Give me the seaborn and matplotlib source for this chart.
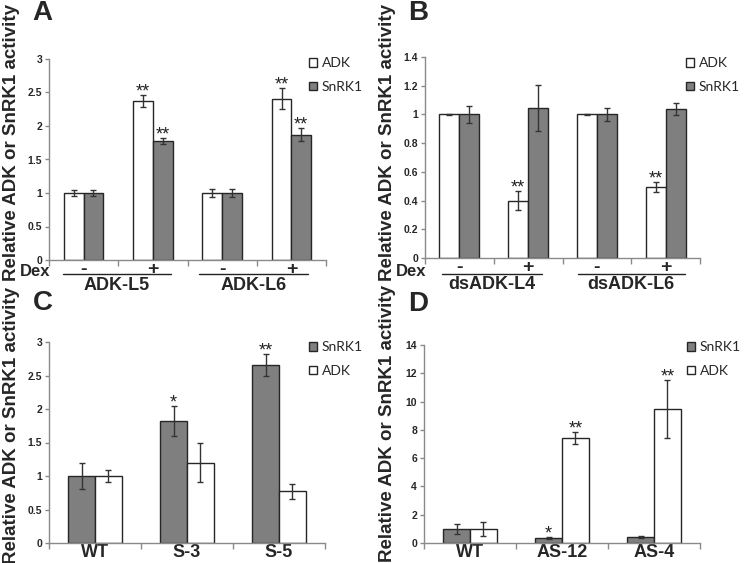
import numpy as np
import pandas as pd
import matplotlib
matplotlib.use("Agg")
import matplotlib.pyplot as plt
import seaborn as sns
from matplotlib.ticker import FuncFormatter, MultipleLocator

sns.set_theme(style="white")
plt.rcParams['font.family'] = ['Liberation Sans', 'DejaVu Sans']

# ---------------- data ----------------
# Panel A
a_cats = ["L5-", "L5+", "L6-", "L6+"]
a_dex = ["-", "+", "-", "+"]
a_groups = ["ADK-L5", "ADK-L6"]
a_adk = [1.0, 2.37, 1.0, 2.41]
a_adk_err = [0.05, 0.09, 0.065, 0.16]
a_adk_stars = ["", "**", "", "**"]
a_snrk = [1.0, 1.77, 1.0, 1.87]
a_snrk_err = [0.05, 0.045, 0.06, 0.095]
a_snrk_stars = ["", "**", "", "**"]

# Panel B
b_cats = ["L4-", "L4+", "L6-", "L6+"]
b_dex = ["-", "+", "-", "+"]
b_groups = ["dsADK-L4", "dsADK-L6"]
b_adk = [1.0, 0.40, 1.0, 0.497]
b_adk_err = [0.005, 0.066, 0.003, 0.035]
b_adk_stars = ["", "**", "", "**"]
b_snrk = [1.0, 1.045, 1.0, 1.037]
b_snrk_err = [0.06, 0.16, 0.048, 0.04]
b_snrk_stars = ["", "", "", ""]

# Panel C
c_cats = ["WT", "S-3", "S-5"]
c_snrk = [1.0, 1.82, 2.66]
c_snrk_err = [0.2, 0.23, 0.16]
c_snrk_stars = ["", "*", "**"]
c_adk = [1.0, 1.2, 0.77]
c_adk_err = [0.09, 0.29, 0.11]
c_adk_stars = ["", "", ""]

# Panel D
d_cats = ["WT", "AS-12", "AS-4"]
d_snrk = [1.0, 0.35, 0.42]
d_snrk_err = [0.35, 0.06, 0.1]
d_snrk_stars = ["", "*", ""]
d_adk = [1.0, 7.45, 9.45]
d_adk_err = [0.5, 0.42, 2.05]
d_adk_stars = ["", "**", "**"]

GREY = "#7f7f7f"
WHITE = "#ffffff"
EDGE = "#262626"
AXC = "#8a8a8a"

W, H = 749, 563
fig = plt.figure(figsize=(W / 100, H / 100), dpi=100)


def make_axes(l, t, r, b):
    return fig.add_axes([l / W, 1 - b / H, (r - l) / W, (b - t) / H])


def panel(box, cats, series, ymax, ystep, width, letter, letter_xy, ylabel_xy,
          legend_xy, xlabels=None, xlabel_size=13):
    l, t, r, b = box
    ax = make_axes(l, t, r, b)
    rows = []
    for name, vals, errs, stars, col in series:
        for c, v in zip(cats, vals):
            rows.append({"cat": c, "val": v, "series": name})
    df = pd.DataFrame(rows)
    names = [s[0] for s in series]
    pal = {s[0]: s[4] for s in series}
    sns.barplot(data=df, x="cat", y="val", hue="series", order=cats,
                hue_order=names, palette=pal, width=width, saturation=1,
                edgecolor=EDGE, linewidth=1, errorbar=None, legend=False, ax=ax)
    for cont, (name, vals, errs, stars, col) in zip(ax.containers, series):
        for bar, v, e, s in zip(cont.patches, vals, errs, stars):
            x = bar.get_x() + bar.get_width() / 2
            ax.errorbar(x, v, yerr=e, fmt="none", ecolor="#333333",
                        elinewidth=1, capsize=2.5, capthick=1, zorder=5)
            if s:
                ax.annotate(s, xy=(x, v + e), xytext=(0, -1),
                            textcoords="offset points", ha="center",
                            va="baseline", fontsize=13, color="#222222",
                            zorder=6)
    n = len(cats)
    ax.set_xlim(-0.5, n - 0.5)
    ax.set_ylim(0, ymax)
    ax.yaxis.set_major_locator(MultipleLocator(ystep))
    ax.yaxis.set_major_formatter(FuncFormatter(lambda v, p: f"{v:g}"))
    for sp in ["top", "right"]:
        ax.spines[sp].set_visible(False)
    for sp in ["left", "bottom"]:
        ax.spines[sp].set_color(AXC)
        ax.spines[sp].set_linewidth(1)
    ax.tick_params(axis="y", direction="out", length=3, width=1, color=AXC,
                   labelsize=7.5, pad=2, left=True)
    for lab in ax.get_yticklabels():
        lab.set_fontweight("bold")
    ax.set_xticks(range(n))
    ax.set_xticks(np.arange(-0.5, n, 1.0), minor=True)
    ax.tick_params(axis="x", which="major", length=0, pad=1)
    ax.tick_params(axis="x", which="minor", direction="out", length=4,
                   width=1, color=AXC, bottom=True)
    if xlabels is None:
        ax.set_xticklabels(cats, fontsize=xlabel_size, fontweight="bold")
    else:
        ax.set_xticklabels(xlabels, fontsize=xlabel_size, fontweight="bold")
    ax.set_xlabel("")
    ax.set_ylabel("")
    # panel letter
    fig.text(letter_xy[0] / W, 1 - letter_xy[1] / H, letter, fontsize=20,
             fontweight="bold", ha="center", va="center")
    # y label
    fig.text(ylabel_xy[0] / W, 1 - ylabel_xy[1] / H,
             "Relative ADK or SnRK1 activity", rotation=90, fontsize=13.5,
             fontweight="bold", ha="center", va="center")
    # legend
    handles = list(ax.containers)
    fig.legend(handles, names, loc="upper left",
               bbox_to_anchor=(legend_xy[0] / W, 1 - legend_xy[1] / H),
               frameon=False, borderpad=0, borderaxespad=0,
               handlelength=0.6, handleheight=0.6, handletextpad=0.3,
               labelspacing=0.85, prop={"family": "Lato", "size": 10})
    return ax


def dex_groups(ax, box, groups, spans, dex_x):
    l, t, r, b = box
    h = b - t
    fy = lambda ypx: (b - ypx) / h
    trans = ax.get_xaxis_transform()
    for (x0, x1), g in zip(spans, groups):
        ax.plot([x0, x1], [fy(274), fy(274)], color="#222222", lw=1,
                transform=trans, clip_on=False)
        ax.text((x0 + x1) / 2, fy(285), g, transform=trans, ha="center",
                va="center", fontsize=13, fontweight="bold")
    fig.text(dex_x / W, 1 - 271.5 / H, "Dex", fontsize=12, fontweight="bold",
             ha="left", va="center")


boxA = (49, 59, 326, 260)
axA = panel(boxA, a_cats,
            [("ADK", a_adk, a_adk_err, a_adk_stars, WHITE),
             ("SnRK1", a_snrk, a_snrk_err, a_snrk_stars, GREY)],
            3, 0.5, 0.57, "A", (42, 13), (12, 142), (309, 57),
            xlabels=a_dex, xlabel_size=14)
dex_groups(axA, boxA, a_groups, [(-0.3, 1.26), (1.66, 3.24)], 20)

boxB = (425, 57, 700, 258)
axB = panel(boxB, b_cats,
            [("ADK", b_adk, b_adk_err, b_adk_stars, WHITE),
             ("SnRK1", b_snrk, b_snrk_err, b_snrk_stars, GREY)],
            1.4, 0.2, 0.58, "B", (418, 13), (387, 142), (686, 57),
            xlabels=b_dex, xlabel_size=14)
dex_groups(axB, boxB, b_groups, [(-0.25, 1.2), (1.72, 3.28)], 396)

boxC = (49, 342, 325, 543)
axC = panel(boxC, c_cats,
            [("SnRK1", c_snrk, c_snrk_err, c_snrk_stars, GREY),
             ("ADK", c_adk, c_adk_err, c_adk_stars, WHITE)],
            3, 0.5, 0.58, "C", (43, 303), (12, 425), (309, 341))

boxD = (424, 345, 700, 543)
axD = panel(boxD, d_cats,
            [("SnRK1", d_snrk, d_snrk_err, d_snrk_stars, GREY),
             ("ADK", d_adk, d_adk_err, d_adk_stars, WHITE)],
            14, 2, 0.58, "D", (418, 304), (387, 424), (687, 341))

fig.savefig("out.png", dpi=100)
